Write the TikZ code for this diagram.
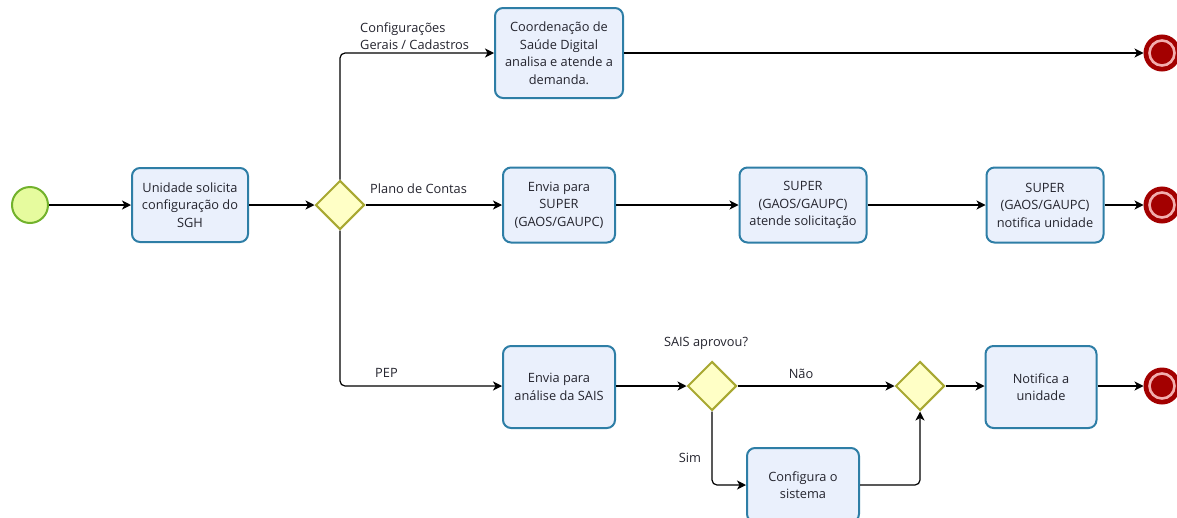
\documentclass[tikz,border=0pt]{standalone}
\usepackage{fontspec}
\setmainfont{Open Sans}
\usetikzlibrary{shapes.geometric,arrows.meta}
\definecolor{boxfill}{HTML}{EAF0FC}
\definecolor{boxline}{HTML}{2E7EA6}
\definecolor{gwfill}{HTML}{FFFFC6}
\definecolor{gwline}{HTML}{A8A832}
\definecolor{stfill}{HTML}{E6FB9E}
\definecolor{stline}{HTML}{72B22C}
\definecolor{endred}{HTML}{A30000}
\definecolor{endpink}{HTML}{F2AEAE}
\definecolor{txt}{HTML}{24242E}
\tikzset{
  every node/.style={font=\fontsize{12.8}{17.5}\selectfont, text=txt},
  task/.style={draw=boxline, line width=2pt, fill=boxfill, rounded corners=8pt, align=center, inner sep=0pt},
  gw/.style={diamond, draw=gwline, line width=2pt, fill=gwfill, minimum width=49pt, minimum height=49pt, inner sep=0pt},
  startev/.style={circle, draw=stline, line width=2pt, fill=stfill, minimum size=36pt, inner sep=0pt},
  endev/.style={circle, draw=endred, line width=3pt, fill=endred, minimum size=34pt, inner sep=0pt},
  flow/.style={draw=black, line width=1.2pt, -{Stealth[length=9pt,width=9pt,inset=2.5pt]}, rounded corners=5pt},
  lbl/.style={inner sep=0pt}
}
\newcommand{\myendring}[1]{\draw[endpink, line width=2.6pt] (#1) circle (12.5pt);}
\begin{document}
\begin{tikzpicture}[x=1pt,y=-1pt]
\useasboundingbox (0,0) rectangle (1177,517);
% events
\node[startev] (s) at (30,205) {};
\node[endev] (e1) at (1162,53) {};
\node[endev] (e2) at (1162,205) {};
\node[endev] (e3) at (1162,386) {};
\myendring{e1}\myendring{e2}\myendring{e3}
% tasks
\node[task, minimum width=116pt, minimum height=74pt] (b1) at (190,205) {Unidade solicita\\configuração do\\SGH};
\node[task, minimum width=128pt, minimum height=90pt] (b2) at (559,53) {Coordenação de\\Saúde Digital\\analisa e atende a\\demanda.};
\node[task, minimum width=112pt, minimum height=75pt] (b3) at (559,205) {Envia para\\SUPER\\(GAOS/GAUPC)};
\node[task, minimum width=127pt, minimum height=75pt] (b4) at (803,205) {SUPER\\(GAOS/GAUPC)\\atende solicitação};
\node[task, minimum width=117pt, minimum height=75pt] (b5) at (1045,205) {SUPER\\(GAOS/GAUPC)\\notifica unidade};
\node[task, minimum width=112pt, minimum height=82pt] (b6) at (559,387) {Envia para\\análise da SAIS};
\node[task, minimum width=111pt, minimum height=82pt] (b7) at (1041,387) {Notifica a\\unidade};
\node[task, minimum width=112pt, minimum height=74pt] (b8) at (803,485) {Configura o\\sistema};
% gateways
\node[gw] (g1) at (340,205) {};
\node[gw] (g2) at (712,386) {};
\node[gw] (g3) at (920,386) {};
% flows
\draw[flow] (s) -- (b1);
\draw[flow] (b1) -- (g1);
\draw[flow] (g1.north) |- (b2.west);
\draw[flow] (g1.east) -- (b3.west);
\draw[flow] (g1.south) |- (b6.west |- g2.west);
\draw[flow] (b6.east |- g2.west) -- (g2.west);
\draw[flow] (g2.east) -- (g3.west);
\draw[flow] (g3.east) -- (b7.west |- g3.east);
\draw[flow] (b7.east |- e3.west) -- (e3.west);
\draw[flow] (b2.east) -- (e1.west);
\draw[flow] (b3) -- (b4);
\draw[flow] (b4) -- (b5);
\draw[flow] (b5) -- (e2);
\draw[flow] (g2.south) |- (b8.west);
\draw[flow] (b8.east) -| (g3.south);
% labels
\node[lbl, anchor=west, align=left] (l1) at (360,36) {Configurações\\Gerais / Cadastros};
\node[lbl, anchor=west] (l2) at (370,189) {Plano de Contas};
\node[lbl, anchor=west] (l3) at (375,373) {PEP};
\node[lbl] (l4) at (706,343) {SAIS aprovou?};
\node[lbl] (l5) at (801,374) {Não};
\node[lbl] (l6) at (690,458) {Sim};
\end{tikzpicture}
\end{document}
